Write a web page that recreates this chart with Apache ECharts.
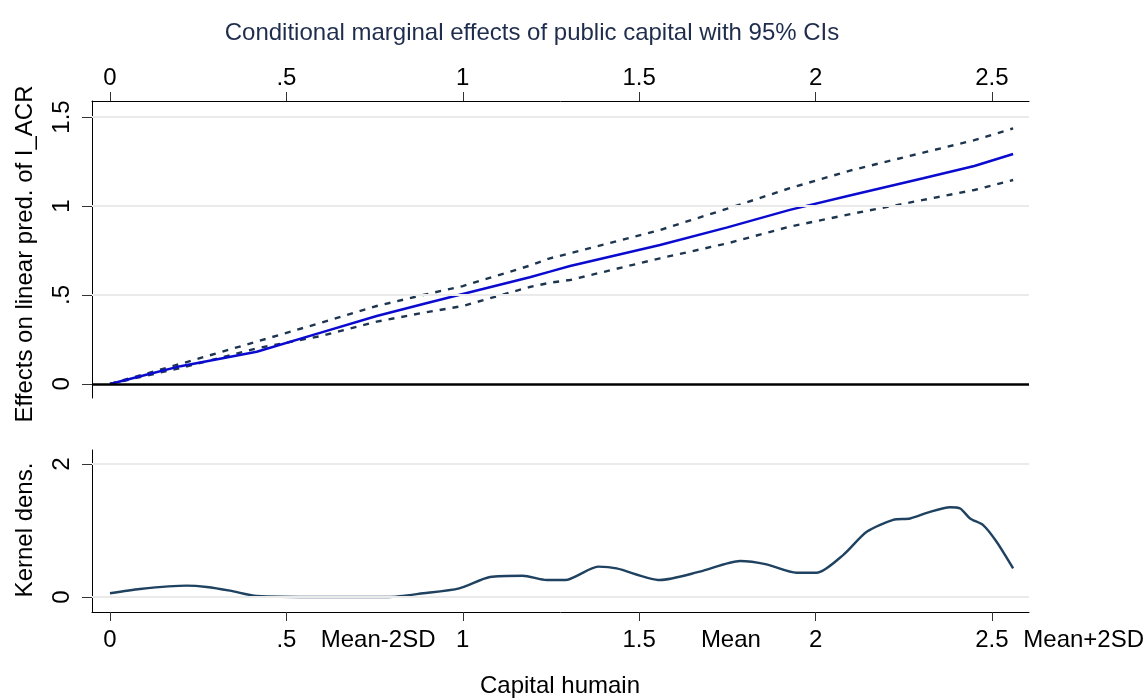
<!DOCTYPE html>
<html>
<head>
<meta charset="utf-8">
<script src="https://cdn.jsdelivr.net/npm/echarts@6/dist/echarts.min.js"></script>
<style>
html,body{margin:0;padding:0;background:#fff;}
#main{width:1147px;height:698px;}
</style>
</head>
<body>
<div id="main"></div>
<script>
// ---- Data ----
const xTop = [0, 0.1, 0.2, 0.416, 0.6, 0.756, 0.888, 1.0, 1.19, 1.247, 1.304, 1.559, 1.75, 1.927, 2.1, 2.305, 2.45, 2.56];
const effect = [0, 0.05, 0.10, 0.181, 0.29, 0.382, 0.449, 0.505, 0.60, 0.631, 0.663, 0.781, 0.88, 0.978, 1.06, 1.156, 1.225, 1.292];
const ciUpper = [0, 0.056, 0.113, 0.238, 0.345, 0.438, 0.50, 0.55, 0.665, 0.706, 0.734, 0.865, 0.985, 1.10, 1.20, 1.30, 1.37, 1.436];
const ciLower = [0, 0.045, 0.090, 0.20, 0.27, 0.35, 0.40, 0.438, 0.545, 0.569, 0.584, 0.706, 0.79, 0.884, 0.955, 1.034, 1.09, 1.146];

const xDens = [0, 0.085, 0.217, 0.274, 0.34, 0.416, 0.6, 0.79, 0.888, 0.99, 1.077, 1.17, 1.238, 1.29, 1.384, 1.436, 1.559, 1.672, 1.786, 1.861, 1.946, 2.003, 2.078, 2.145, 2.22, 2.268, 2.324, 2.381, 2.41, 2.438, 2.475, 2.513, 2.56];
const dens = [0.056, 0.12, 0.17, 0.15, 0.095, 0.015, 0.0, 0.0, 0.055, 0.13, 0.30, 0.32, 0.255, 0.255, 0.456, 0.43, 0.255, 0.38, 0.54, 0.49, 0.365, 0.365, 0.63, 0.98, 1.16, 1.18, 1.28, 1.35, 1.33, 1.18, 1.08, 0.83, 0.43];

const xTicks = [0, 0.5, 1, 1.5, 2, 2.5];
const xTickLabels = ['0', '.5', '1', '1.5', '2', '2.5'];
const yTopTicks = [0, 0.5, 1, 1.5];
const yTopTickLabels = ['0', '.5', '1', '1.5'];
const yBotTicks = [0, 2];
const yBotTickLabels = ['0', '2'];
const refValues = [0.76, 1.76, 2.76];
const refLabels = ['Mean-2SD', 'Mean', 'Mean+2SD'];

const FONT = 'Liberation Sans, Arial, sans-serif';
const FS = 24;
const pairs = (xs, ys) => xs.map((x, i) => [x, ys[i]]);
const fmt = (ticks, labels) => v => {
  const i = ticks.findIndex(t => Math.abs(t - v) < 1e-9);
  return i >= 0 ? labels[i] : '';
};

const chart = echarts.init(document.getElementById('main'));
const XMIN = -0.051, XMAX = 2.605;
const gridLine = {color: '#eaeaea', width: 2, type: 'solid'};

const axisLineStyle = {show: true, onZero: false, lineStyle: {color: '#000', width: 1}};
const tickStyle = {color: '#333', width: 1};

const option = {
  animation: false,
  backgroundColor: '#fff',
  title: {
    text: 'Conditional marginal effects of public capital with 95% CIs',
    left: 527, top: 16, textAlign: 'center',
    textStyle: {fontFamily: FONT, fontSize: FS, fontWeight: 'normal', color: '#1f2d4d'}
  },
  grid: [
    {left: 92, top: 101, width: 937, height: 297},
    {left: 92, top: 450, width: 937, height: 162}
  ],
  xAxis: [
    {
      type: 'value', gridIndex: 0, position: 'top', min: XMIN, max: XMAX,
      axisLine: axisLineStyle,
      axisTick: {show: true, customValues: xTicks, length: 9, lineStyle: tickStyle},
      axisLabel: {customValues: xTicks, formatter: fmt(xTicks, xTickLabels), margin: 11,
        fontFamily: FONT, fontSize: FS, color: '#000'},
      splitLine: {show: false}
    },
    {
      type: 'value', gridIndex: 1, position: 'bottom', min: XMIN, max: XMAX,
      axisLine: axisLineStyle,
      axisTick: {show: true, customValues: xTicks, length: 9, lineStyle: tickStyle},
      axisLabel: {customValues: xTicks, formatter: fmt(xTicks, xTickLabels), margin: 16,
        fontFamily: FONT, fontSize: FS, color: '#000'},
      splitLine: {show: false}
    }
  ],
  yAxis: [
    {
      type: 'value', gridIndex: 0, min: -0.079, max: 1.59,
      axisLine: axisLineStyle,
      axisTick: {show: true, customValues: yTopTicks, length: 10, lineStyle: tickStyle},
      axisLabel: {customValues: yTopTicks, formatter: fmt(yTopTicks, yTopTickLabels), rotate: 90, margin: 18,
        fontFamily: FONT, fontSize: FS, color: '#000'},
      splitLine: {show: false}
    },
    {
      type: 'value', gridIndex: 1, min: -0.226, max: 2.21,
      axisLine: axisLineStyle,
      axisTick: {show: true, customValues: yBotTicks, length: 10, lineStyle: tickStyle},
      axisLabel: {customValues: yBotTicks, formatter: fmt(yBotTicks, yBotTickLabels), rotate: 90, margin: 18,
        fontFamily: FONT, fontSize: FS, color: '#000'},
      splitLine: {show: false}
    }
  ],
  series: [
    {
      type: 'line', xAxisIndex: 0, yAxisIndex: 0, data: [], silent: true, z: 1,
      markLine: {
        silent: true, symbol: 'none', label: {show: false},
        data: yTopTicks.filter(v => v !== 0).map(v => ({yAxis: v, lineStyle: gridLine}))
          .concat([{yAxis: 0, lineStyle: {color: '#000', width: 2.5, type: 'solid'}}])
      }
    },
    {
      type: 'line', xAxisIndex: 1, yAxisIndex: 1, data: [], silent: true, z: 1,
      markLine: {
        silent: true, symbol: 'none', label: {show: false},
        data: yBotTicks.map(v => ({yAxis: v, lineStyle: gridLine}))
      }
    },
    {
      name: 'upper', type: 'line', xAxisIndex: 0, yAxisIndex: 0, data: pairs(xTop, ciUpper),
      showSymbol: false, smooth: false, z: 3,
      lineStyle: {color: '#1e3550', width: 2.4, type: [6, 7]}
    },
    {
      name: 'lower', type: 'line', xAxisIndex: 0, yAxisIndex: 0, data: pairs(xTop, ciLower),
      showSymbol: false, smooth: false, z: 3,
      lineStyle: {color: '#1e3550', width: 2.4, type: [6, 7]}
    },
    {
      name: 'effect', type: 'line', xAxisIndex: 0, yAxisIndex: 0, data: pairs(xTop, effect),
      showSymbol: false, smooth: false, z: 4,
      lineStyle: {color: '#0b0bd0', width: 2.5}
    },
    {
      name: 'density', type: 'line', xAxisIndex: 1, yAxisIndex: 1, data: pairs(xDens, dens),
      showSymbol: false, smooth: 0.25, z: 3,
      lineStyle: {color: '#1f4260', width: 2.4}
    }
  ]
};
chart.setOption(option);

// Text labels positioned through the axis scales
const graphics = refValues.map((v, i) => ({
  type: 'text',
  x: chart.convertToPixel({xAxisIndex: 1}, v),
  y: 640,
  style: {text: refLabels[i], fontFamily: FONT, fontSize: FS, fill: '#000',
    textAlign: 'center', textVerticalAlign: 'middle'}
}));
graphics.push({
  type: 'text', x: 560, y: 686,
  style: {text: 'Capital humain', fontFamily: FONT, fontSize: FS, fill: '#000',
    textAlign: 'center', textVerticalAlign: 'middle'}
});
graphics.push({
  type: 'text', x: 25, y: 254, rotation: Math.PI / 2,
  style: {text: 'Effects on linear pred. of I_ACR', fontFamily: FONT, fontSize: FS, fill: '#000',
    textAlign: 'center', textVerticalAlign: 'middle'}
});
graphics.push({
  type: 'text', x: 25, y: 530, rotation: Math.PI / 2,
  style: {text: 'Kernel dens.', fontFamily: FONT, fontSize: FS, fill: '#000',
    textAlign: 'center', textVerticalAlign: 'middle'}
});
chart.setOption({graphic: graphics});
</script>
</body>
</html>
